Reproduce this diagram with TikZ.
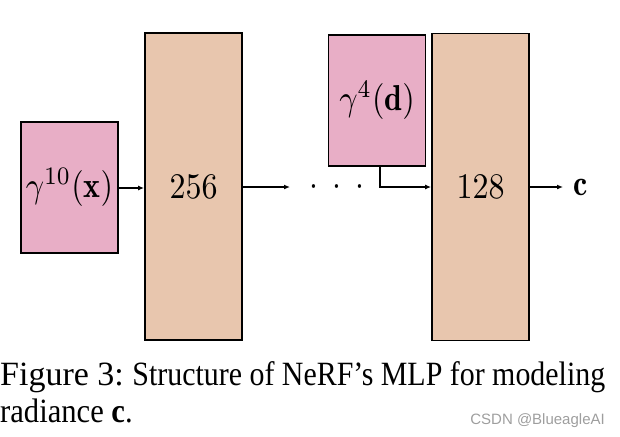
\documentclass[tikz,border=0pt]{standalone}
\usepackage{amsmath}
\usepackage{bm}
\usepackage{graphicx}
\usepackage{fontspec}
\newfontfamily\capfont{Liberation Serif}
\newfontfamily\markfont{Liberation Sans}
\usetikzlibrary{arrows.meta, positioning}
\definecolor{encpink}{RGB}{232,174,198}
\definecolor{layertan}{RGB}{232,198,174}
\newcommand{\bigmath}[1]{\scalebox{3.2}[3.6]{#1}}

\begin{document}
\begin{tikzpicture}[x=1pt, y=-1pt, >={Latex[length=6pt, width=5pt]}]
% styles for the encoding boxes, the layers and the arrows
 \tikzset{
enc/.style = {draw, rectangle, fill=encpink, line width=1.8pt, minimum width=97pt, minimum height=131pt, inner sep=0pt},
layer/.style = {draw, rectangle, fill=layertan, line width=1.8pt, minimum width=97pt, minimum height=307pt, inner sep=0pt},
line/.style = {draw, ->, line width=1.4pt},
captext/.style = {font=\capfont\fontsize{34}{36}\selectfont, inner sep=0pt},
}
 \useasboundingbox (0,0) rectangle (620,436);

 % encoded position and first layer
 \node [enc] (posenc) at (69.5,187.5) {\bigmath{$\gamma^{10}(\mathbf{x})$}};
 \node [layer] (first) at (193.5,186.5) {\bigmath{$256$}};

 % skipped layers
 \coordinate (gap) at (290,187);
 \node [inner sep=0pt] (dots) at (337,187) {\bigmath{$\cdot$\hspace{4.3pt}$\cdot$\hspace{4.3pt}$\cdot$}};

 % encoded direction and last layer
 \node [enc] (direnc) at (377,100.5) {\bigmath{$\gamma^{4}(\mathbf{d})$}};
 \node [layer] (last) at (480.5,187) {\bigmath{$128$}};
 \coordinate (out) at (563,187);
 \node [right=10pt of out, inner sep=0pt] (color) {\bigmath{$\mathbf{c}$}};

 % arrows
 \draw [line] (posenc.east |- 0,188) -- (first.west |- 0,188);
 \draw [line] (first.east |- gap) -- (gap);
 \draw [line] ([xshift=3pt]direnc.south) |- (last.west);
 \draw [line] (last.east) -- (out);

 % caption and mark
 \node [captext, anchor=base west] (figlabel) at (0,385) {Figure 3:\ \scalebox{0.88}[1]{Structure of NeRF’s MLP for modeling}};
 \node [captext, anchor=base west] (figlabel2) at (0,422) {\scalebox{0.9}[1]{radiance \textbf{c}.}};
 \node [anchor=base east, inner sep=0pt, text=black!38, font=\markfont\fontsize{15}{17}\selectfont] (mark) at (605,424) {CSDN @BlueagleAI};

\end{tikzpicture}
\end{document}
